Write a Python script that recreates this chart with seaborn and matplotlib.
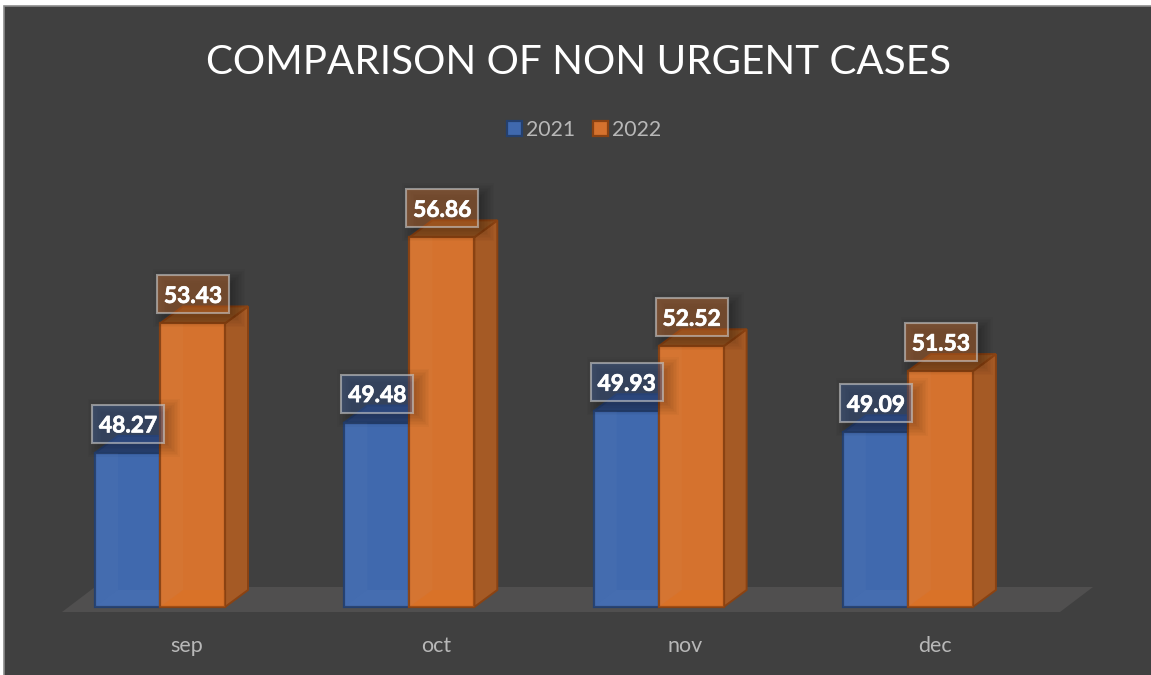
import matplotlib
matplotlib.use("Agg")
import matplotlib.pyplot as plt
import matplotlib.patheffects as pe
import pandas as pd
import seaborn as sns
from matplotlib.patches import Polygon, Rectangle
from matplotlib.transforms import Affine2D

months = ["sep", "oct", "nov", "dec"]
values_2021 = [48.27, 49.48, 49.93, 49.09]
values_2022 = [53.43, 56.86, 52.52, 51.53]
years = ["2021", "2022"]
title_text = "COMPARISON OF NON URGENT CASES"

W, H = 1151, 675
BG = "#404040"
TXT = "#B8B8B8"
FONT = "Lato"
BASE = 42.13                # value where the floor of the value axis sits
DX, DY = 23, 17             # 3D depth in pixels
styles = {
    "2021": dict(front="#4069AE", edge="#24406F", top="#2A4678", side="#2F5090", box=(0.27, 0.45, 0.77, 0.32)),
    "2022": dict(front="#D5722E", edge="#8A4212", top="#91501F", side="#A55A25", box=(0.93, 0.49, 0.19, 0.36)),
}

sns.set_theme(style="dark")
plt.rcParams["font.family"] = [FONT, "DejaVu Sans"]

fig = plt.figure(figsize=(W / 100, H / 100), dpi=100, facecolor="white")
px = Affine2D().scale(1, -1).translate(0, H)   # pixel coords, y down

fig.add_artist(Rectangle((4, 6), W + 10, H + 10, transform=px, fc=BG, ec="#8C8C8C", lw=1.2, zorder=0))
fig.add_artist(Polygon([(62, 612), (1060, 612), (1093, 587), (95, 587)], closed=True,
                       transform=px, fc="#504F4F", ec="none", zorder=0.5))

ax = fig.add_axes([4 / W, (H - 607) / H, (W - 8) / W, 601 / H])
ax.set_facecolor("none")
ax.set_zorder(5)

df = pd.DataFrame({
    "month": months * 2,
    "value": values_2021 + values_2022,
    "year": [years[0]] * 4 + [years[1]] * 4,
})
sns.barplot(data=df, x="month", y="value", hue="year", hue_order=years,
            width=0.5215, gap=0, saturation=1, zorder=3, ax=ax, errorbar=None,
            palette={y: styles[y]["front"] for y in years})

ax.set_xlim((4 - 160) / 249.3, (W - 4 - 160) / 249.3)
ax.set_ylim(BASE, 48.27 + (453 - 6) / 25.1)
fig.canvas.draw()

ux = ax.get_window_extent().width / (ax.get_xlim()[1] - ax.get_xlim()[0])
uy = ax.get_window_extent().height / (ax.get_ylim()[1] - ax.get_ylim()[0])
ddx, ddy = DX / ux, DY / uy

for year, cont, vals in zip(years, ax.containers, (values_2021, values_2022)):
    st = styles[year]
    for bar, v in zip(cont.patches, vals):
        bar.set_y(BASE)
        bar.set_height(v - BASE)
        bar.set_edgecolor(st["edge"])
        bar.set_linewidth(1.6)
        bar.set_clip_on(False)
        x0, x1 = bar.get_x(), bar.get_x() + bar.get_width()
        z = 2 if year == "2022" else 1
        # side and top faces of the box
        ax.add_patch(Polygon([(x1, BASE), (x1 + ddx, BASE + ddy), (x1 + ddx, v + ddy), (x1, v)],
                             closed=True, fc=st["side"], ec=st["edge"], lw=1.4, zorder=z, clip_on=False))
        ax.add_patch(Polygon([(x0, v), (x0 + ddx, v + ddy), (x1 + ddx, v + ddy), (x1, v)],
                             closed=True, fc=st["top"], ec=st["edge"], lw=1.4, zorder=z, clip_on=False))
        # faint inner walls seen through the translucent front
        ax.add_patch(Polygon([(x0, BASE), (x0 + ddx, BASE + ddy), (x0 + ddx, v), (x0, v)],
                             closed=True, fc=(1, 1, 1, 0.025), ec="none", zorder=4))
        ax.add_patch(Polygon([(x0, BASE), (x0 + ddx, BASE + ddy), (x1, BASE + ddy), (x1, BASE)],
                             closed=True, fc=(1, 1, 1, 0.03) if year == "2021" else (0.9, 0.45, 0.1, 0.25),
                             ec="none", zorder=4))
        # data label with soft shadow
        cx = (x0 + x1) / 2 + 0.5 / ux
        cy = v + 29 / uy
        bw, bh = 72 / ux, 38 / uy
        for grow in range(20, -8, -3):
            g = grow / 2
            ax.add_patch(Rectangle((cx - bw / 2 + (6 - g) / ux, cy - bh / 2 - (4 + g) / uy),
                                   bw + 2 * g / ux, bh + 2 * g / uy,
                                   fc=(0, 0, 0, 0.022), ec="none", zorder=5, clip_on=False))
        ax.add_patch(Rectangle((cx - bw / 2, cy - bh / 2), bw, bh, fc=st["box"],
                               ec=(0.78, 0.78, 0.78, 0.62), lw=1.5, zorder=6))
        ax.text(cx, cy, f"{v:.2f}", ha="center", va="center_baseline", color="white",
                fontsize=16.4, fontweight="bold", zorder=7,
                path_effects=[pe.withStroke(linewidth=0.5, foreground="white")])

# axes furniture
for s in ax.spines.values():
    s.set_visible(False)
ax.grid(False)
ax.set_yticks([])
ax.set_ylabel("")
ax.set_xlabel("")
ax.set_xticks([i + 27 / 249.3 for i in range(len(months))], months)
ax.tick_params(axis="x", length=0, pad=21, labelsize=15.5, labelcolor=TXT)

handles, labels = ax.get_legend_handles_labels()
for h, y in zip(handles, years):
    h.set_edgecolor(styles[y]["edge"])
    h.set_linewidth(1.6)
leg = ax.legend(handles, labels, ncols=2, loc="center", frameon=False,
                bbox_to_anchor=(584, 130), bbox_transform=px,
                handlelength=0.72, handleheight=0.72, handletextpad=0.2, columnspacing=0.8,
                fontsize=15.3)
for t in leg.get_texts():
    t.set_color(TXT)

fig.text(579 / W, 1 - 62 / H, title_text, ha="center", va="center", color="white", fontsize=29.1)

fig.savefig("out.png", dpi=100, facecolor=fig.get_facecolor())
